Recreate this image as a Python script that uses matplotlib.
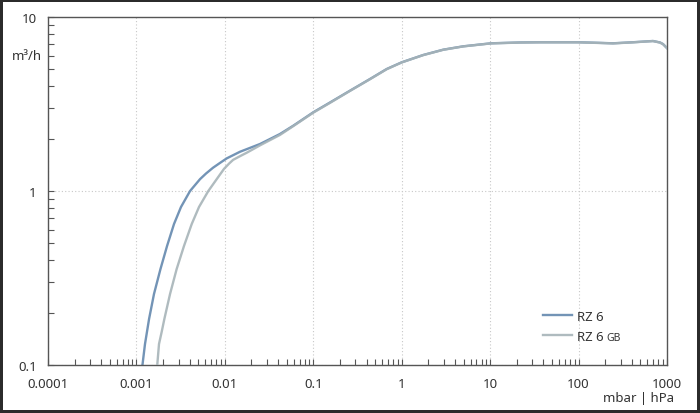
import matplotlib
matplotlib.use('Agg')
import matplotlib.pyplot as plt

# pressure (mbar) vs pumping speed (m3/h)
rz6_p = [0.00117, 0.00125, 0.00139, 0.00158, 0.00187, 0.00222, 0.00266, 0.00319,
         0.00404, 0.00524, 0.00612, 0.00734, 0.00881, 0.0105, 0.0148, 0.0250,
         0.0420, 0.0594, 0.100, 0.1545, 0.260, 0.438, 0.676, 1.0, 1.754, 2.95,
         4.97, 10.2, 21.8, 36.6, 98.5, 175, 245, 413, 694, 833, 901, 1000]
rz6_q = [0.1, 0.132, 0.184, 0.256, 0.356, 0.483, 0.646, 0.809,
         1.0, 1.17, 1.26, 1.36, 1.45, 1.54, 1.68, 1.863,
         2.126, 2.373, 2.834, 3.226, 3.771, 4.403, 5.024, 5.49, 6.05, 6.49,
         6.785, 7.06, 7.14, 7.16, 7.16, 7.10, 7.06, 7.16, 7.28, 7.14, 6.99, 6.63]

rz6gb_p = [0.00172, 0.0018, 0.00193, 0.00207, 0.0024, 0.00285, 0.00345, 0.00422,
           0.0051, 0.0065, 0.00809, 0.00978, 0.0112, 0.0124, 0.0150, 0.0177,
           0.0250, 0.0420, 0.0594, 0.100, 0.1545, 0.260, 0.438, 0.676, 1.0, 1.754, 2.95,
           4.97, 10.2, 21.8, 36.6, 98.5, 175, 245, 413, 694, 833, 901, 1000]
rz6gb_q = [0.1, 0.132, 0.155, 0.184, 0.256, 0.356, 0.483, 0.646,
           0.809, 1.0, 1.17, 1.34, 1.44, 1.51, 1.59, 1.66,
           1.83, 2.10, 2.36, 2.82, 3.21, 3.76, 4.39, 5.01, 5.48, 6.04, 6.48,
           6.775, 7.05, 7.13, 7.15, 7.15, 7.09, 7.05, 7.15, 7.27, 7.13, 6.98, 6.62]

x_ticks = [0.0001, 0.001, 0.01, 0.1, 1, 10, 100, 1000]
x_labels = ['0.0001', '0.001', '0.01', '0.1', '1', '10', '100', '1000']
y_ticks = [0.1, 1, 10]
y_labels = ['0.1', '1', '10']

plt.rcParams['font.family'] = ['Noto Sans', 'DejaVu Sans']

fig = plt.figure(figsize=(7, 4.14), dpi=100)
fig.patch.set_facecolor('white')
fig.patch.set_edgecolor('#2b2b2b')
fig.patch.set_linewidth(3)
ax = fig.add_axes([48/700, 48/414, 619/700, 348/414])

ax.plot(rz6_p, rz6_q, color='#7394b6', lw=1.7, label='RZ 6', zorder=2,
        solid_joinstyle='round')
ax.plot(rz6gb_p, rz6gb_q, color='#a7b4b8', lw=1.7, label='RZ 6', zorder=3,
        solid_joinstyle='round', alpha=0.9)

ax.set_xscale('log')
ax.set_yscale('log')
ax.set_xlim(0.0001, 1000)
ax.set_ylim(0.1, 10)
ax.set_xticks(x_ticks)
ax.set_xticklabels(x_labels)
ax.set_yticks(y_ticks)
ax.set_yticklabels(y_labels)

ax.grid(True, which='major', color='#c8c8c8', linestyle=(0, (1, 2)), lw=0.8)
ax.tick_params(which='both', direction='in', colors='#555555', labelcolor='#333333',
               labelsize=9.5, top=False, right=False)
ax.tick_params(which='major', length=4, width=0.8)
ax.tick_params(which='minor', length=4, width=0.8)
ax.tick_params(axis='x', pad=9)
ax.tick_params(axis='y', pad=8)
for sp in ax.spines.values():
    sp.set_color('#555555')
    sp.set_linewidth(1.0)

ax.text(-0.01, 0.89, 'm³/h', transform=ax.transAxes, ha='right', va='center',
        fontsize=9.5, color='#333333')
ax.text(1.011, -0.092, 'mbar | hPa', transform=ax.transAxes, ha='right', va='center',
        fontsize=9.5, color='#333333')

leg = ax.legend(loc='lower left', bbox_to_anchor=(0.78, 0.03), frameon=False,
                fontsize=9.5, handlelength=2.2, handletextpad=0.4, labelspacing=0.5)
for t in leg.get_texts():
    t.set_color('#333333')

# small caps suffix on the second legend entry
fig.canvas.draw()
bb = leg.get_texts()[1].get_window_extent()
fx, fy = fig.transFigure.inverted().transform((bb.x1, (bb.y0 + bb.y1) / 2))
fig.text(fx + 0.004, fy - 0.003, 'GB', fontsize=7.5, color='#333333', va='center', ha='left')

plt.savefig('out.png', dpi=100, facecolor=fig.get_facecolor(), edgecolor=fig.get_edgecolor())
